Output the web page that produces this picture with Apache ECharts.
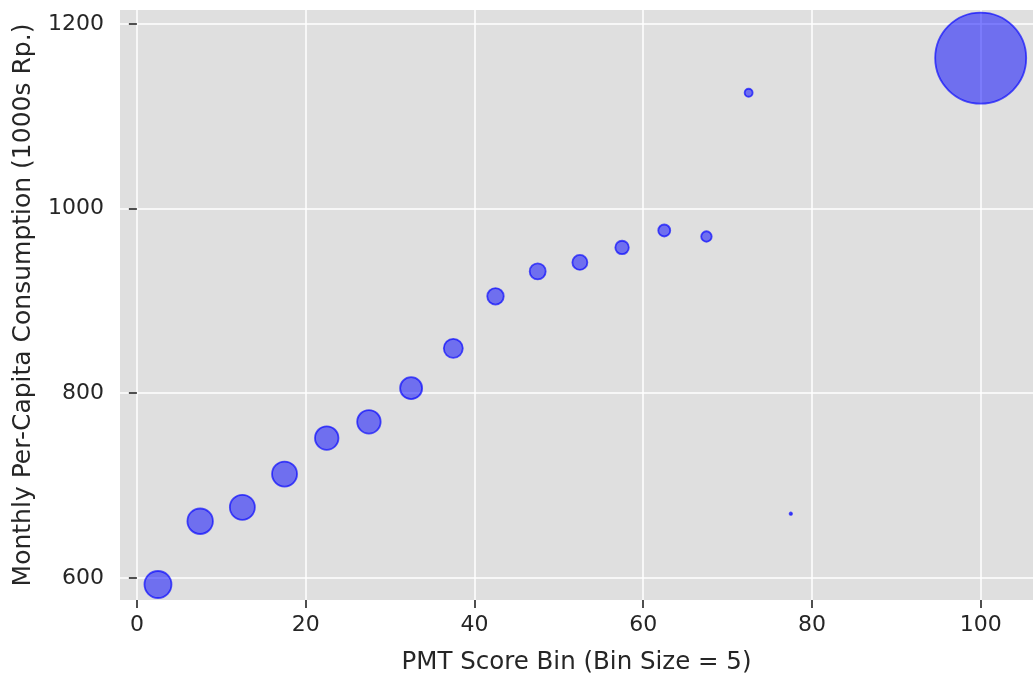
<!DOCTYPE html>
<html>
<head>
<meta charset="utf-8">
<script src="https://cdn.jsdelivr.net/npm/echarts@6/dist/echarts.min.js"></script>
<style>
  html, body { margin: 0; padding: 0; background: #fff; }
  #chart { width: 1033px; height: 680px; }
</style>
</head>
<body>
<div id="chart"></div>
<script>
// PMT score bin centres
var binCenters = [2.5, 7.5, 12.5, 17.5, 22.5, 27.5, 32.5, 37.5, 42.5, 47.5, 52.5, 57.5, 62.5, 67.5, 72.5, 77.5, 100];
// mean monthly per-capita consumption (1000s Rp.)
var consumption = [592.8, 661.3, 676.4, 712.4, 751.4, 769, 805.4, 848.6, 904.9, 931.9, 941.6, 957.8, 976.2, 969.7, 1125.4, 669.5, 1162.9];
// relative number of households per bin (marker area)
var binCount = [729, 650, 625, 625, 552, 552, 484, 361, 272, 256, 225, 182, 144, 110, 64, 6, 8281];

var xTicks = [0, 20, 40, 60, 80, 100];
var yTicks = [600, 800, 1000, 1200];

var points = [];
for (var i = 0; i < binCenters.length; i++) {
    points.push([binCenters[i], consumption[i], binCount[i]]);
}

var font = 'DejaVu Sans';
var textColor = '#262626';
var chart = echarts.init(document.getElementById('chart'));
var option = {
    animation: false,
    grid: {
        left: 120,
        right: 0,
        top: 10,
        bottom: 79,
        show: true,
        backgroundColor: 'rgb(223,223,223)',
        borderWidth: 0
    },
    xAxis: {
        type: 'value',
        min: -2,
        max: 106.2,
        name: 'PMT Score Bin (Bin Size = 5)',
        nameLocation: 'middle',
        nameGap: 50,
        nameTextStyle: { fontFamily: font, fontSize: 24.5, color: textColor },
        axisLine: { show: false },
        axisTick: { show: true, length: 8, customValues: xTicks, lineStyle: { color: '#222', width: 1.6 } },
        axisLabel: {
            customValues: xTicks, fontFamily: font, fontSize: 22, color: textColor, margin: 14,
            formatter: function (v) { return String(v); }
        },
        splitLine: { show: true, lineStyle: { color: '#fff', width: 1.5 } }
    },
    yAxis: {
        type: 'value',
        min: 576,
        max: 1215,
        name: 'Monthly Per-Capita Consumption (1000s Rp.)',
        nameLocation: 'middle',
        nameGap: 84,
        nameTextStyle: { fontFamily: font, fontSize: 25, color: textColor },
        axisLine: { show: false },
        axisTick: { show: true, length: 8, customValues: yTicks, lineStyle: { color: '#222', width: 1.6 } },
        axisLabel: {
            customValues: yTicks, fontFamily: font, fontSize: 22, color: textColor, margin: 16,
            formatter: function (v) { return String(v); }
        },
        splitLine: { show: true, lineStyle: { color: '#fff', width: 1.5 } }
    },
    series: [{
        type: 'scatter',
        data: points,
        symbolSize: function (d) { return Math.sqrt(d[2]); },
        itemStyle: {
            color: 'rgba(0,0,255,0.5)',
            borderColor: 'rgba(0,0,255,0.65)',
            borderWidth: 1.8,
            opacity: 1
        }
    }]
};
chart.setOption(option);
</script>
</body>
</html>
